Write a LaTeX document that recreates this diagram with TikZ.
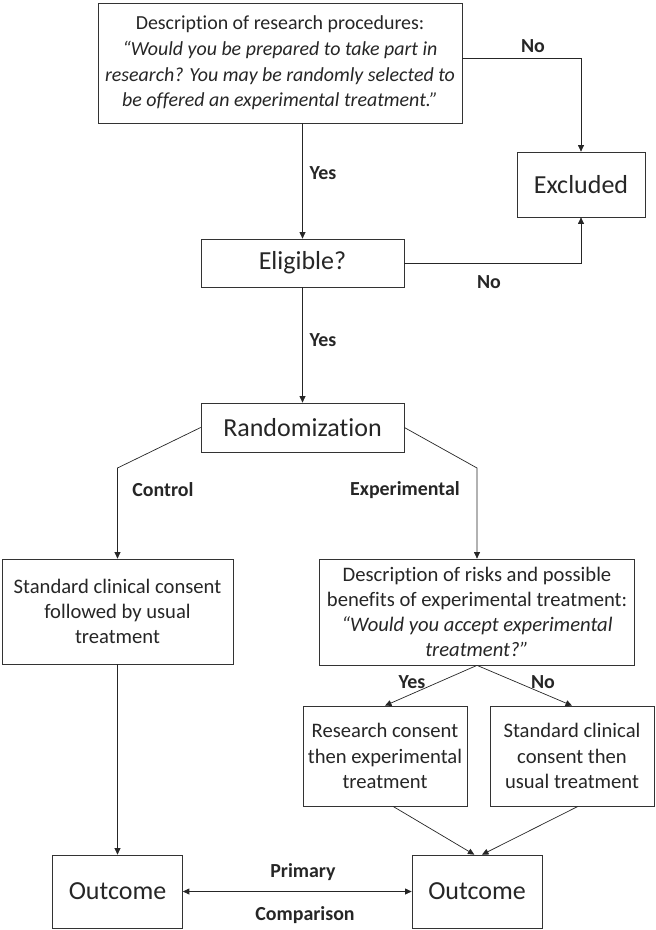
\documentclass[tikz,border=0pt]{standalone}
\usepackage{fontspec}
\setmainfont[Ligatures=NoCommon]{Carlito}
\usetikzlibrary{arrows.meta}
\begin{document}
\begin{tikzpicture}
[x=0.03cm, y=-0.03cm,
 box/.style={draw=black!80, fill=white, align=center, inner sep=2pt, font=\fontsize{17.6}{21.5}\selectfont},
 bigbox/.style={box, font=\fontsize{22.2}{26}\selectfont},
 lbl/.style={font=\fontsize{17}{21.3}\selectfont\bfseries, inner sep=1pt},
 >={Triangle[length=5.5pt,width=5pt]}, semithick, black!85]
\useasboundingbox (0,0) rectangle (656,930);

\node[box, minimum width=10.92cm, minimum height=3.6cm, font=\fontsize{17}{21.8}\selectfont] (top) at (280,63)
  {Description of research procedures:\\
   \textit{“Would you be prepared to take part in}\\
   \textit{research? You may be randomly selected to}\\
   \textit{be offered an experimental treatment.”}};
\node[bigbox, minimum width=3.84cm, minimum height=1.95cm] (excl) at (581,184.5) {Excluded};
\node[bigbox, minimum width=6.09cm, minimum height=1.44cm] (elig) at (302.5,263) {Eligible?};
\node[bigbox, minimum width=6.09cm, minimum height=1.47cm] (rand) at (302.5,427.5) {Randomization};
\node[box, minimum width=6.93cm, minimum height=3.15cm] (usual) at (117.5,611.5)
  {Standard clinical consent\\ followed by usual\\ treatment};
\node[box, minimum width=9.45cm, minimum height=3.18cm] (risk) at (477,612)
  {Description of risks and possible\\ benefits of experimental treatment:\\
   \textit{“Would you accept experimental}\\ \textit{treatment?”}};
\node[box, minimum width=4.92cm, minimum height=3cm] (res) at (385,756)
  {Research consent\\ then experimental\\ treatment};
\node[box, minimum width=4.92cm, minimum height=3cm] (std) at (572,756)
  {Standard clinical\\ consent then\\ usual treatment};
\node[bigbox, minimum width=3.9cm, minimum height=2.19cm] (outL) at (117.5,891.5) {Outcome};
\node[bigbox, minimum width=3.9cm, minimum height=2.19cm] (outR) at (477,891.5) {Outcome};

\node[lbl] (noA) at (533,46) {No};
\node[lbl] (yesA) at (323,173) {Yes};
\node[lbl] (noB) at (489,282) {No};
\node[lbl] (yesB) at (323,340) {Yes};
\node[lbl] (ctrlLbl) at (163,490) {Control};
\node[lbl] (expLbl) at (405,490) {Experimental};
\node[lbl] (yesC) at (412,682) {Yes};
\node[lbl] (noC) at (543,682) {No};
\node[lbl] (prim) at (303,872) {Primary};
\node[lbl] (comp) at (305,915) {Comparison};

\coordinate (ctl) at (117.5,468);
\coordinate (exp) at (477,468);

\draw[->] (top.south -| elig.north) -- (elig.north);
\draw[->] ([yshift=0.15cm]top.east) -| (excl.north);
\draw[->] (elig.east) -| (excl.south);
\draw[->] (elig) -- (rand);
\draw[->] (rand.west) -- (ctl) -- (usual.north);
\draw[->] (rand.east) -- (exp) -- (risk.north);
\draw[->] (risk.south) -- (res.north);
\draw[->] (risk.south) -- (std.north);
\draw[->] ([xshift=0.24cm]res.south) -- ([xshift=-0.08cm]outR.north);
\draw[->] ([xshift=0.18cm]std.south) -- ([xshift=0.15cm]outR.north);
\draw[->] (usual) -- (outL);
\draw[<->] (outL) -- (outR);
\end{tikzpicture}
\end{document}
